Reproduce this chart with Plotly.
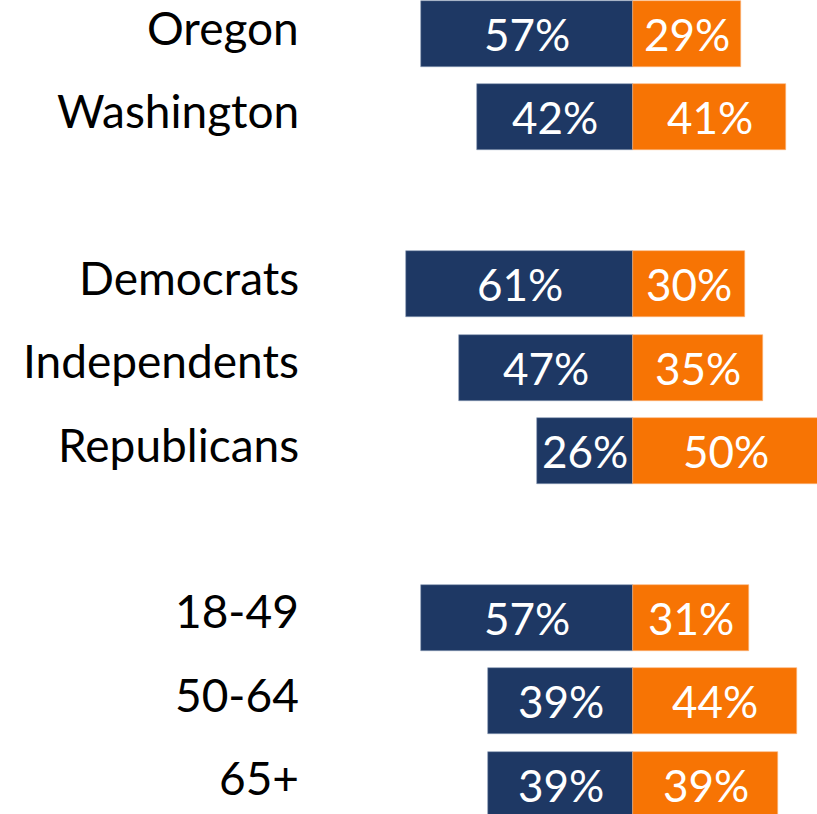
import plotly.graph_objects as go

# Data
categories = ["Oregon", "Washington", "", "Democrats", "Independents", "Republicans", "", "18-49", "50-64", "65+"]
navy_values = [57, 42, None, 61, 47, 26, None, 57, 39, 39]
orange_values = [29, 41, None, 30, 35, 50, None, 31, 44, 39]

NAVY = "#1E3864"
ORANGE = "#F77404"
FONT = "Lato, Open Sans, sans-serif"

rows = [(i, c, n, o) for i, (c, n, o) in enumerate(zip(categories, navy_values, orange_values)) if c]
ys = [r[0] for r in rows]
labels = [r[1] for r in rows]
navy = [r[2] for r in rows]
orange = [r[3] for r in rows]

fig = go.Figure()
fig.add_trace(go.Bar(
    y=ys, x=[-v for v in navy], orientation="h", width=0.79,
    marker=dict(color=NAVY, line=dict(color="#8A9AB5", width=0.6)),
    hoverinfo="skip", showlegend=False,
))
fig.add_trace(go.Bar(
    y=ys, x=orange, orientation="h", width=0.79,
    marker=dict(color=ORANGE, line=dict(color="#FBB27A", width=0.6)),
    hoverinfo="skip", showlegend=False,
))

annotations = []
for y, lab, n, o in zip(ys, labels, navy, orange):
    annotations.append(dict(x=301 / 817, xref="paper", y=y, yref="y", text=lab,
                            xanchor="right", yanchor="middle", showarrow=False, yshift=7,
                            font=dict(family=FONT, size=46, color="#000000")))
    annotations.append(dict(x=-n / 2, xref="x", y=y, yref="y", text=f"{n}%",
                            xanchor="center", yanchor="middle", showarrow=False,
                            font=dict(family=FONT, size=44, color="#FFFFFF")))
    annotations.append(dict(x=o / 2, xref="x", y=y, yref="y", text=f"{o}%",
                            xanchor="center", yanchor="middle", showarrow=False,
                            font=dict(family=FONT, size=44, color="#FFFFFF")))

fig.update_layout(
    width=817, height=814,
    margin=dict(l=0, r=0, t=0, b=0),
    paper_bgcolor="white", plot_bgcolor="white",
    barmode="relative", bargap=0,
    xaxis=dict(range=[-170.3, 49.4], visible=False, fixedrange=True),
    yaxis=dict(range=[9.352, -0.408], visible=False, fixedrange=True),
    annotations=annotations,
)

fig.write_html("out.html", config={"displayModeBar": False},
               post_script="document.body.style.margin='0';document.body.style.overflow='hidden';")
